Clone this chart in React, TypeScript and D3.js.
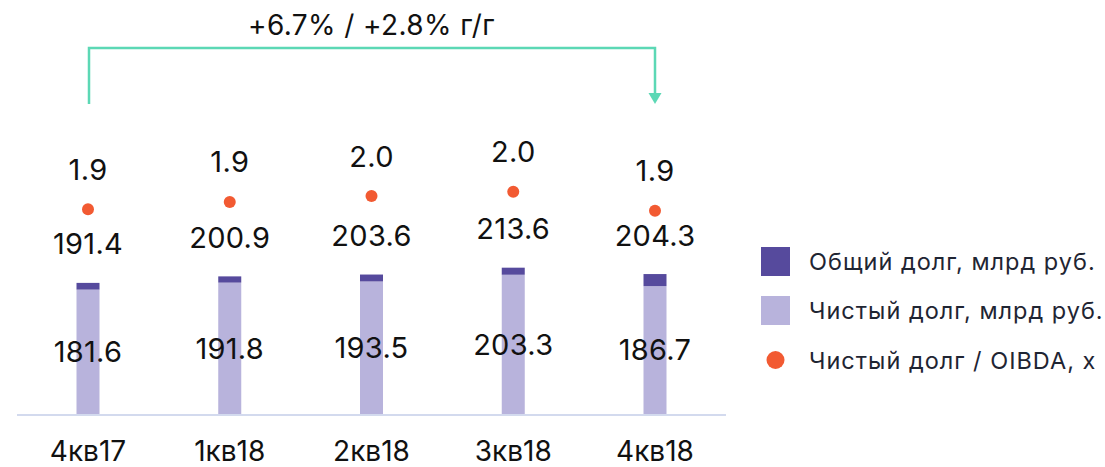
import React from "react";
import * as d3 from "d3";

// Quarterly debt figures, bn RUB
const categories = ["4кв17", "1кв18", "2кв18", "3кв18", "4кв18"];
const totalDebt = [191.4, 200.9, 203.6, 213.6, 204.3];
const netDebt = [181.6, 191.8, 193.5, 203.3, 186.7];
// Net debt / OIBDA, x
const leverage = [1.87, 1.92, 1.96, 1.99, 1.86];

const growthLabel = "+6.7% / +2.8% г/г";
const legendLabels = [
  "Общий долг, млрд руб.",
  "Чистый долг, млрд руб.",
  "Чистый долг / OIBDA, x",
];

const W = 1105;
const H = 467;
const COLORS = {
  total: "#564a9d",
  net: "#b8b3dc",
  dot: "#f25a32",
  accent: "#5cd8b5",
  axis: "#d3daee",
  text: "#111111",
  legend: "#1f2533",
};
const FONT = "Inter, 'Noto Sans', sans-serif";

export default function App() {
  const x = d3.scalePoint<string>().domain(categories).range([88, 655]);
  const y = d3.scaleLinear().domain([0, 250]).range([414, 242.75]);
  const yRatio = d3.scaleLinear().domain([1.86, 1.99]).range([210.7, 191.7]);
  const fmt = d3.format(".1f");
  const barW = 23;
  const baseY = y(0);

  const x0 = x(categories[0])!;
  const x1 = x(categories[categories.length - 1])!;
  const bracketY = 48;
  const bracketBottom = 104;

  return (
    <svg
      width={W}
      height={H}
      style={{ position: "absolute", left: 0, top: 0, background: "#fff" }}
      fontFamily={FONT}
    >
      {/* year-on-year bracket */}
      <text
        x={(x0 + x1) / 2}
        y={35}
        textAnchor="middle"
        fontSize={28}
        letterSpacing={0.4}
        fill={COLORS.text}
      >
        {growthLabel}
      </text>
      <path
        d={`M${x0 + 1},${bracketBottom} V${bracketY} H${x1} V${bracketBottom - 10}`}
        fill="none"
        stroke={COLORS.accent}
        strokeWidth={2.5}
      />
      <path
        d={`M${x1 - 6.5},${bracketBottom - 11} L${x1 + 6.5},${bracketBottom - 11} L${x1},${bracketBottom} Z`}
        fill={COLORS.accent}
      />

      {/* baseline */}
      <line x1={17} x2={726} y1={baseY + 1} y2={baseY + 1} stroke={COLORS.axis} strokeWidth={2} />

      {categories.map((c, i) => {
        const cx = x(c)!;
        const yTot = y(totalDebt[i]);
        const yNet = y(netDebt[i]);
        const dotY = yRatio(leverage[i]);
        return (
          <g key={c}>
            <rect x={cx - barW / 2} y={yNet} width={barW} height={baseY - yNet} fill={COLORS.net} />
            <rect x={cx - barW / 2} y={yTot} width={barW} height={yNet - yTot} fill={COLORS.total} />
            <text
              x={cx}
              y={(yNet + baseY) / 2}
              dy="0.36em"
              textAnchor="middle"
              fontSize={29}
              letterSpacing={0.3}
              fill={COLORS.text}
            >
              {fmt(netDebt[i])}
            </text>
            <text
              x={cx}
              y={yTot - 28.5}
              textAnchor="middle"
              fontSize={29}
              letterSpacing={0.3}
              fill={COLORS.text}
            >
              {fmt(totalDebt[i])}
            </text>
            <circle cx={cx} cy={dotY} r={6} fill={COLORS.dot} />
            <text
              x={cx}
              y={dotY - 29.5}
              textAnchor="middle"
              fontSize={29}
              letterSpacing={0.3}
              fill={COLORS.text}
            >
              {fmt(leverage[i])}
            </text>
            <text x={cx} y={461} textAnchor="middle" fontSize={28} fill={COLORS.text}>
              {c}
            </text>
          </g>
        );
      })}

      {/* legend */}
      <g>
        <rect x={761} y={247} width={29} height={29} fill={COLORS.total} />
        <rect x={761} y={296} width={29} height={29} fill={COLORS.net} />
        <circle cx={775.5} cy={360} r={9} fill={COLORS.dot} />
        {legendLabels.map((t, i) => (
          <text
            key={t}
            x={809}
            y={269.5 + i * 49.5}
            fontSize={23.5}
            letterSpacing={1}
            fill={COLORS.legend}
          >
            {t}
          </text>
        ))}
      </g>
    </svg>
  );
}
